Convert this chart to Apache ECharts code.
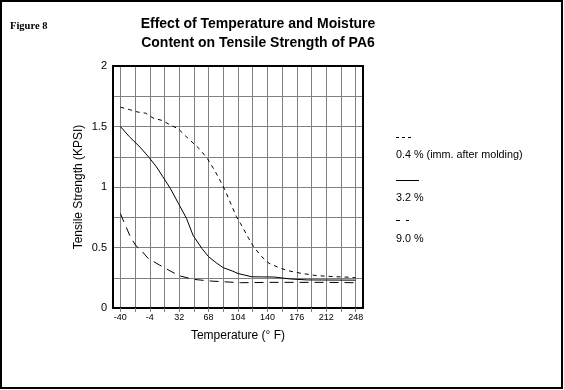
<!DOCTYPE html>
<html>
<head>
<meta charset="utf-8">
<script src="https://cdn.jsdelivr.net/npm/echarts@6/dist/echarts.min.js"></script>
<style>
html,body{margin:0;padding:0;background:#fff;}
#chart{width:564px;height:390px;}
</style>
</head>
<body>
<div id="chart"></div>
<script>
// ---- data ----
var seriesNames = ['0.4 % (imm. after molding)', '3.2 %', '9.0 %'];

var tempA = [-40, -29, -19, -9, 0, 11, 22, 31, 40, 56, 66, 76, 84, 88, 102, 107, 117, 123, 133, 142, 152, 164, 181, 201, 222, 242, 248];
var valA  = [1.66, 1.64, 1.62, 1.61, 1.57, 1.55, 1.51, 1.48, 1.42, 1.32, 1.24, 1.13, 1.03, 0.975, 0.755, 0.70, 0.576, 0.507, 0.424, 0.37, 0.34, 0.31, 0.287, 0.267, 0.259, 0.254, 0.25];

var tempB = [-40, -29, -16, -5, 4, 12, 21, 31, 41, 49, 60, 68, 78, 86, 97, 104, 121, 148, 168, 189, 248];
var valB  = [1.50, 1.416, 1.33, 1.245, 1.168, 1.085, 0.99, 0.865, 0.74, 0.60, 0.49, 0.424, 0.37, 0.333, 0.306, 0.285, 0.258, 0.256, 0.24, 0.232, 0.23];

var tempC = [-40, -33, -27, -20, -16, -6, 8, 21, 32, 49, 70, 86, 107, 148, 209, 248];
var valC  = [0.78, 0.67, 0.576, 0.507, 0.488, 0.41, 0.355, 0.306, 0.267, 0.237, 0.223, 0.217, 0.209, 0.212, 0.212, 0.209];

var xGridValues  = [-40, -22, -4, 14, 32, 50, 68, 86, 104, 122, 140, 158, 176, 194, 212, 230, 248];
var xLabelValues = [-40, -4, 32, 68, 104, 140, 176, 212, 248];
var yLabelValues = [0, 0.5, 1, 1.5, 2];

function pairs(xs, ys) { return xs.map(function (x, i) { return [x, ys[i]]; }); }

var chart = echarts.init(document.getElementById('chart'), null, {renderer: 'canvas'});
var font = 'Arial, "Liberation Sans", sans-serif';

var option = {
  backgroundColor: '#fff',
  animation: false,
  title: {
    text: 'Effect of Temperature and Moisture\nContent on Tensile Strength of PA6',
    left: 253, top: 10, textAlign: 'center',
    textStyle: {fontFamily: font, fontSize: 14, fontWeight: 'bold', color: '#000', lineHeight: 19}
  },
  grid: {left: 113, top: 66, width: 250, height: 242, containLabel: false},
  xAxis: [{
    type: 'value', min: -49, max: 257,
    name: 'Temperature (° F)', nameLocation: 'middle', nameGap: 22,
    nameTextStyle: {fontFamily: font, fontSize: 12, color: '#000'},
    axisLine: {show: true, onZero: false, lineStyle: {color: '#000', width: 2}},
    axisTick: {show: true, length: 4, customValues: xGridValues, lineStyle: {color: '#808080'}},
    axisLabel: {customValues: xLabelValues, fontFamily: font, fontSize: 9, color: '#000', margin: 5},
    splitLine: {show: true, lineStyle: {color: '#808080', width: 1}}
  }, {
    type: 'value', min: -49, max: 257, position: 'top',
    axisLine: {show: true, onZero: false, lineStyle: {color: '#000', width: 2}},
    axisTick: {show: false}, axisLabel: {show: false}, splitLine: {show: false}
  }],
  yAxis: [{
    type: 'value', min: 0, max: 2, interval: 0.25,
    name: 'Tensile Strength (KPSI)', nameLocation: 'middle', nameGap: 28,
    nameTextStyle: {fontFamily: font, fontSize: 12, color: '#000'},
    axisLine: {show: true, onZero: false, lineStyle: {color: '#000', width: 2}},
    axisTick: {show: false},
    axisLabel: {customValues: yLabelValues, fontFamily: font, fontSize: 11, color: '#000', margin: 6},
    splitLine: {show: true, lineStyle: {color: '#808080', width: 1}}
  }, {
    type: 'value', min: 0, max: 2, position: 'right',
    axisLine: {show: true, onZero: false, lineStyle: {color: '#000', width: 2}},
    axisTick: {show: false}, axisLabel: {show: false}, splitLine: {show: false}
  }],
  series: [{
    name: seriesNames[0], type: 'line', data: pairs(tempA, valA), symbol: 'none',
    lineStyle: {color: '#000', width: 1, type: [4, 4]}, z: 5
  }, {
    name: seriesNames[1], type: 'line', data: pairs(tempB, valB), symbol: 'none',
    lineStyle: {color: '#000', width: 1, type: 'solid'}, z: 5
  }, {
    name: seriesNames[2], type: 'line', data: pairs(tempC, valC), symbol: 'none',
    lineStyle: {color: '#000', width: 1, type: [9, 6]}, z: 5
  }],
  graphic: [
    {type: 'rect', shape: {x: 1, y: 1, width: 561, height: 387}, style: {fill: null, stroke: '#000', lineWidth: 2}, silent: true},
    {type: 'text', left: 10, top: 21, style: {text: 'Figure 8', font: 'bold 10.5px "Liberation Serif", "Times New Roman", serif', fill: '#000'}},
    {type: 'line', shape: {x1: 396, y1: 137.5, x2: 411, y2: 137.5}, style: {stroke: '#000', lineWidth: 1, lineDash: [3, 3]}},
    {type: 'text', left: 396, top: 150, style: {text: seriesNames[0], font: '10.8px ' + font, fill: '#000'}},
    {type: 'line', shape: {x1: 396, y1: 180.5, x2: 419, y2: 180.5}, style: {stroke: '#000', lineWidth: 1}},
    {type: 'text', left: 396, top: 193, style: {text: seriesNames[1], font: '10.8px ' + font, fill: '#000'}},
    {type: 'line', shape: {x1: 396, y1: 220.5, x2: 409, y2: 220.5}, style: {stroke: '#000', lineWidth: 1, lineDash: [4, 6]}},
    {type: 'text', left: 396, top: 234, style: {text: seriesNames[2], font: '10.8px ' + font, fill: '#000'}}
  ]
};
chart.setOption(option);
</script>
</body>
</html>
